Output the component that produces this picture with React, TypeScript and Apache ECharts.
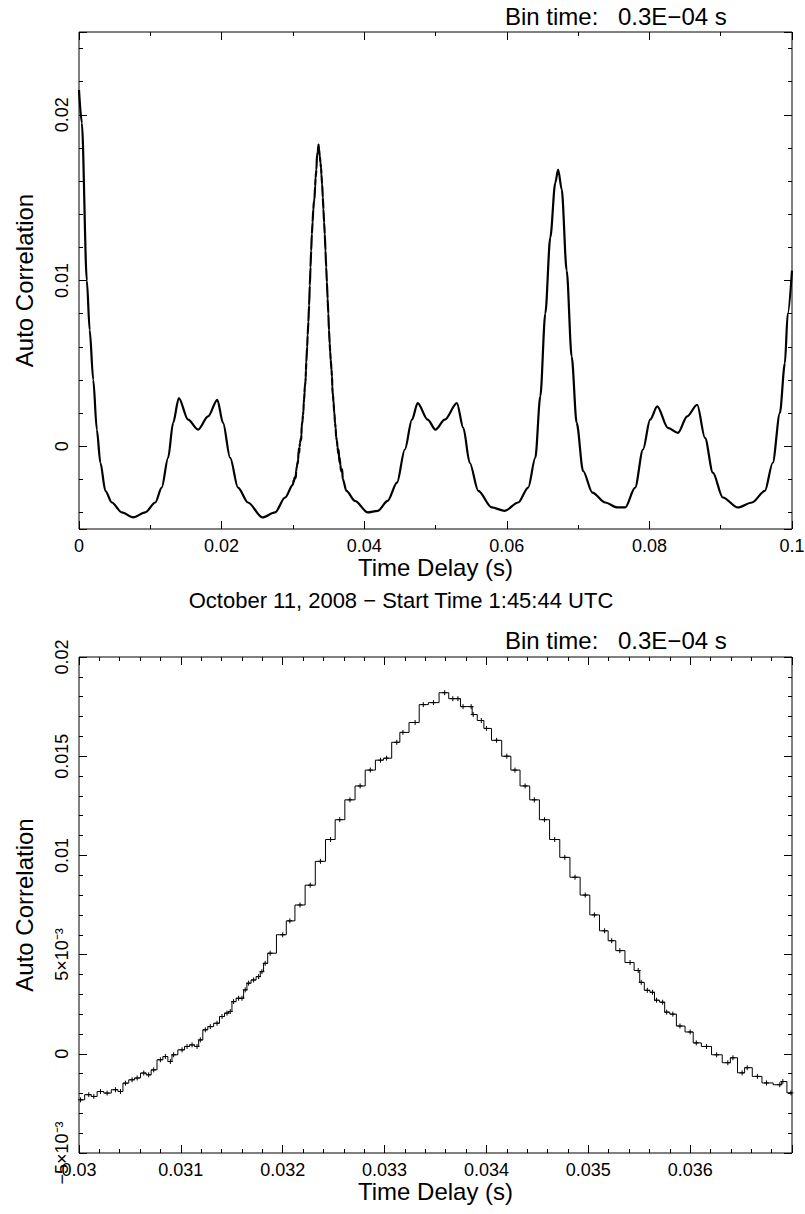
import React, { useEffect, useRef } from 'react';
import * as echarts from 'echarts';

// Top panel: auto correlation vs time delay (s), outside the zoomed window
const topDelay = [
  0, 0.0004, 0.0011, 0.0015, 0.002, 0.0025, 0.003, 0.0037, 0.0046, 0.006, 0.0076, 0.0093, 0.0107,
  0.0116, 0.0125, 0.0132, 0.014, 0.0153, 0.0167, 0.0181, 0.0194, 0.0202, 0.0212, 0.0223, 0.0237,
  0.0257, 0.0275, 0.0289,
  0.0375, 0.0387, 0.0405, 0.0419, 0.0433, 0.0446, 0.0457, 0.0467, 0.0475, 0.0489, 0.05, 0.0513,
  0.053, 0.0539, 0.0548, 0.056, 0.0579, 0.0597, 0.0616, 0.063, 0.064, 0.0647, 0.0654, 0.0661,
  0.0668, 0.0672, 0.0677, 0.0684, 0.0691, 0.0698, 0.0707, 0.072, 0.0738, 0.0755, 0.0766, 0.078,
  0.0791, 0.0801, 0.0811, 0.0826, 0.084, 0.0853, 0.0867, 0.0878, 0.0889, 0.0903, 0.0924, 0.0944,
  0.0962, 0.0973, 0.0983, 0.099, 0.0994, 0.1,
];
const topCorr = [
  0.0215, 0.0195, 0.01, 0.007, 0.004, 0.001, -0.001, -0.0027, -0.0034, -0.004, -0.0043, -0.004, -0.0034,
  -0.0025, -0.0007, 0.0014, 0.0029, 0.0016, 0.001, 0.0018, 0.0028, 0.0014, -0.0007, -0.0025, -0.0034,
  -0.0043, -0.004, -0.0031,
  -0.0027, -0.0033, -0.004, -0.0039, -0.0033, -0.0022, -0.0002, 0.0016, 0.0026, 0.0016, 0.001, 0.0016,
  0.0026, 0.0011, -0.001, -0.0027, -0.0037, -0.0039, -0.0034, -0.0025, -0.0007, 0.003, 0.008, 0.0126,
  0.0159, 0.0167, 0.0155, 0.0106, 0.0054, 0.0014, -0.0015, -0.0028, -0.0034, -0.0037, -0.0037, -0.0025,
  -0.0002, 0.0016, 0.0024, 0.0011, 0.0008, 0.0018, 0.0025, 0.0005, -0.0016, -0.0031, -0.0037, -0.0034,
  -0.0027, -0.001, 0.002, 0.005, 0.008, 0.0106,
];

// Bottom panel: zoom on the main peak (also used for the same stretch of the top panel)
const zoomDelay = [
  0.030015, 0.030096, 0.030145, 0.030211, 0.030276, 0.030358, 0.030407, 0.030456, 0.030521, 0.030571,
  0.030636, 0.030684, 0.030733, 0.030799, 0.030848, 0.030897, 0.030929, 0.031012, 0.031061, 0.03111,
  0.031159, 0.031191, 0.03124, 0.031289, 0.031355, 0.031404, 0.031453, 0.031485, 0.031518, 0.031567,
  0.0316, 0.031632, 0.031665, 0.031714, 0.031763, 0.031796, 0.031828, 0.031877,
  0.0320, 0.03207, 0.03217, 0.03227, 0.03237, 0.03247, 0.03256, 0.03266, 0.03276, 0.03286, 0.03296,
  0.03302, 0.03312, 0.03318, 0.0333, 0.03338, 0.03348, 0.03359, 0.03367, 0.03372, 0.03377, 0.03385,
  0.03387, 0.03395, 0.034, 0.0341, 0.0342,
  0.03428, 0.03438, 0.03447, 0.03457, 0.03467, 0.03477, 0.03487, 0.03497, 0.03506, 0.03516, 0.03523, 0.03531,
  0.03541, 0.03549, 0.03552, 0.03558, 0.03563, 0.03567, 0.03573, 0.03577, 0.03583, 0.0359, 0.036,
  0.03606, 0.03616, 0.03626, 0.03637, 0.03642, 0.03651, 0.03656, 0.03666, 0.03675, 0.03688,
  0.03691, 0.03699,
];
const zoomCorr = [
  -0.00232, -0.00206, -0.00215, -0.0019, -0.00198, -0.00181, -0.0019, -0.00148, -0.00131, -0.00122,
  -0.00097, -0.00106, -0.00081, -0.0003, -0.00014, -0.00039, -0.00005, 0.0002, 0.00037, 0.00045,
  0.00037, 0.0007, 0.00121, 0.00137, 0.00154, 0.00188, 0.00205, 0.00213, 0.00263, 0.0028,
  0.0028, 0.00322, 0.00356, 0.00372, 0.00389, 0.00414, 0.00456, 0.00507,
  0.006, 0.0067, 0.0075, 0.0085, 0.0097, 0.0108, 0.0118, 0.0128, 0.0135, 0.0143, 0.0148,
  0.0149, 0.0157, 0.0162, 0.0167, 0.0176, 0.0177, 0.0182, 0.0179, 0.0179, 0.0175, 0.0175,
  0.0171, 0.0168, 0.0164, 0.0158, 0.015,
  0.0143, 0.0135, 0.0128, 0.0118, 0.0108, 0.0099, 0.0089, 0.008, 0.007, 0.0062, 0.0057, 0.0052,
  0.0046, 0.0042, 0.0036, 0.0032, 0.0031, 0.0027, 0.0026, 0.0021, 0.002, 0.0014, 0.0011,
  0.00055, 0.00037, -0.00005, -0.00045, -0.0002, -0.00096, -0.0007, -0.00114, -0.00147, -0.00156,
  -0.0014, -0.00197,
];

const topXTickValues = [0, 0.02, 0.04, 0.06, 0.08, 0.1];
const topXTickText = ['0', '0.02', '0.04', '0.06', '0.08', '0.1'];
const topYTickValues = [0, 0.01, 0.02];
const topYTickText = ['0', '0.01', '0.02'];
const zoomXTickValues = [0.03, 0.031, 0.032, 0.033, 0.034, 0.035, 0.036];
const zoomXTickText = ['0.03', '0.031', '0.032', '0.033', '0.034', '0.035', '0.036'];
const zoomYTickValues = [-0.005, 0, 0.005, 0.01, 0.015, 0.02];
const zoomYTickText = ['\u22125\u00d710\u207b\u00b3', '0', '5\u00d710\u207b\u00b3', '0.01', '0.015', '0.02'];

const FONT = "'Liberation Sans', Arial, Helvetica, sans-serif";

const pick = (vals: number[], texts: string[]) => (v: number) => {
  for (let i = 0; i < vals.length; i++) if (Math.abs(v - vals[i]) < 1e-9) return texts[i];
  return '';
};

export default function App() {
  const ref = useRef<HTMLDivElement>(null);
  useEffect(() => {
    document.body.style.margin = '0';
    const chart = echarts.init(ref.current!, undefined, { renderer: 'svg' });
    const TICK_COLOR = '#000';
    const major = () => ({ show: true, inside: true, length: 8, lineStyle: { color: TICK_COLOR, width: 1 } });
    const minor = (n: number) => ({ show: true, splitNumber: n, length: 4, lineStyle: { color: TICK_COLOR, width: 1 } });
    const minorAxisTick = () => ({ show: true, inside: true, length: 4, lineStyle: { color: TICK_COLOR, width: 1 } });
    const base = (grid: number, min: number, max: number, extra: any) => ({
      type: 'value', gridIndex: grid, min, max,
      axisLine: { show: false, onZero: false }, splitLine: { show: false },
      ...extra,
    });
    const labelStyle = { color: '#000', fontFamily: FONT, fontSize: 18 };
    const nameStyle = { color: '#000', fontFamily: FONT, fontSize: 24 };

    const topData: number[][] = [];
    topDelay.forEach((x, i) => { if (x < 0.03) topData.push([x, topCorr[i]]); });
    zoomDelay.forEach((x, i) => topData.push([x, zoomCorr[i]]));
    topDelay.forEach((x, i) => { if (x > 0.037) topData.push([x, topCorr[i]]); });

    const option: any = {
      animation: false,
      grid: [
        { left: 79, top: 32, width: 713, height: 497, show: true, borderColor: '#000', borderWidth: 1, outerBoundsMode: 'none' },
        { left: 79, top: 657, width: 713, height: 496, show: true, borderColor: '#000', borderWidth: 1, outerBoundsMode: 'none' },
      ],
      xAxis: [
        base(0, 0, 0.1, {
          position: 'bottom', interval: 0.02, axisTick: major(), minorTick: minor(2),
          axisLabel: { ...labelStyle, margin: 8, formatter: pick(topXTickValues, topXTickText) },
          name: 'Time Delay (s)', nameLocation: 'middle', nameGap: 17, nameTextStyle: nameStyle,
        }),
        base(0, 0, 0.1, {
          position: 'top', interval: 0.02, axisTick: major(), minorTick: minor(2), axisLabel: { show: false },
        }),
        base(1, 0.03, 0.037, {
          position: 'bottom', interval: 0.001, axisTick: major(), minorTick: minor(5),
          axisLabel: { ...labelStyle, margin: 8, formatter: pick(zoomXTickValues, zoomXTickText) },
          name: 'Time Delay (s)', nameLocation: 'middle', nameGap: 17, nameTextStyle: nameStyle,
        }),
        base(1, 0.03, 0.037, {
          position: 'top', interval: 0.001, axisTick: major(), minorTick: minor(5), axisLabel: { show: false },
        }),
      ],
      yAxis: [
        base(0, -0.005, 0.025, {
          position: 'left', splitNumber: 3, axisTick: major(),
          axisLabel: { ...labelStyle, rotate: 90, margin: 8, formatter: pick(topYTickValues, topYTickText) },
          name: 'Auto Correlation', nameLocation: 'middle', nameGap: 43, nameTextStyle: nameStyle,
        }),
        base(0, -0.005, 0.025, { position: 'left', splitNumber: 15, axisTick: minorAxisTick(), axisLabel: { show: false } }),
        base(0, -0.005, 0.025, { position: 'right', splitNumber: 3, axisTick: major(), axisLabel: { show: false } }),
        base(0, -0.005, 0.025, { position: 'right', splitNumber: 15, axisTick: minorAxisTick(), axisLabel: { show: false } }),
        base(1, -0.005, 0.02, {
          position: 'left', interval: 0.005, axisTick: major(), minorTick: minor(5),
          axisLabel: { ...labelStyle, rotate: 90, margin: 8, formatter: pick(zoomYTickValues, zoomYTickText) },
          name: 'Auto Correlation', nameLocation: 'middle', nameGap: 43, nameTextStyle: nameStyle,
        }),
        base(1, -0.005, 0.02, {
          position: 'right', interval: 0.005, axisTick: major(), minorTick: minor(5), axisLabel: { show: false },
        }),
      ],
      series: [
        {
          type: 'line', xAxisIndex: 0, yAxisIndex: 0,
          data: topData, smooth: 0.3, smoothMonotone: 'x',
          showSymbol: false, lineStyle: { color: '#000', width: 2.2 },
        },
        {
          type: 'line', xAxisIndex: 2, yAxisIndex: 4, step: 'middle',
          data: zoomDelay.map((x, i) => [x, zoomCorr[i]]),
          symbol: 'path://M5,0L5,10M0,5L10,5', symbolSize: 5,
          itemStyle: { color: 'none', borderColor: '#000', borderWidth: 1 },
          lineStyle: { color: '#000', width: 1 },
        },
      ],
      graphic: [
        { type: 'text', left: 505, top: 4, style: { text: 'Bin time:', font: `24px ${FONT}`, fill: '#000' } },
        { type: 'text', left: 618, top: 4, style: { text: '0.3E\u221204 s', font: `24px ${FONT}`, fill: '#000' } },
        { type: 'text', left: 505, top: 628, style: { text: 'Bin time:', font: `24px ${FONT}`, fill: '#000' } },
        { type: 'text', left: 618, top: 628, style: { text: '0.3E\u221204 s', font: `24px ${FONT}`, fill: '#000' } },
        {
          type: 'text', x: 401, y: 600,
          style: { text: 'October 11, 2008 \u2212 Start Time 1:45:44 UTC', font: `22px ${FONT}`, fill: '#000', align: 'center', verticalAlign: 'middle' },
        },
      ],
    };
    chart.setOption(option);
    return () => chart.dispose();
  }, []);
  return <div ref={ref} style={{ width: 805, height: 1214 }} />;
}
